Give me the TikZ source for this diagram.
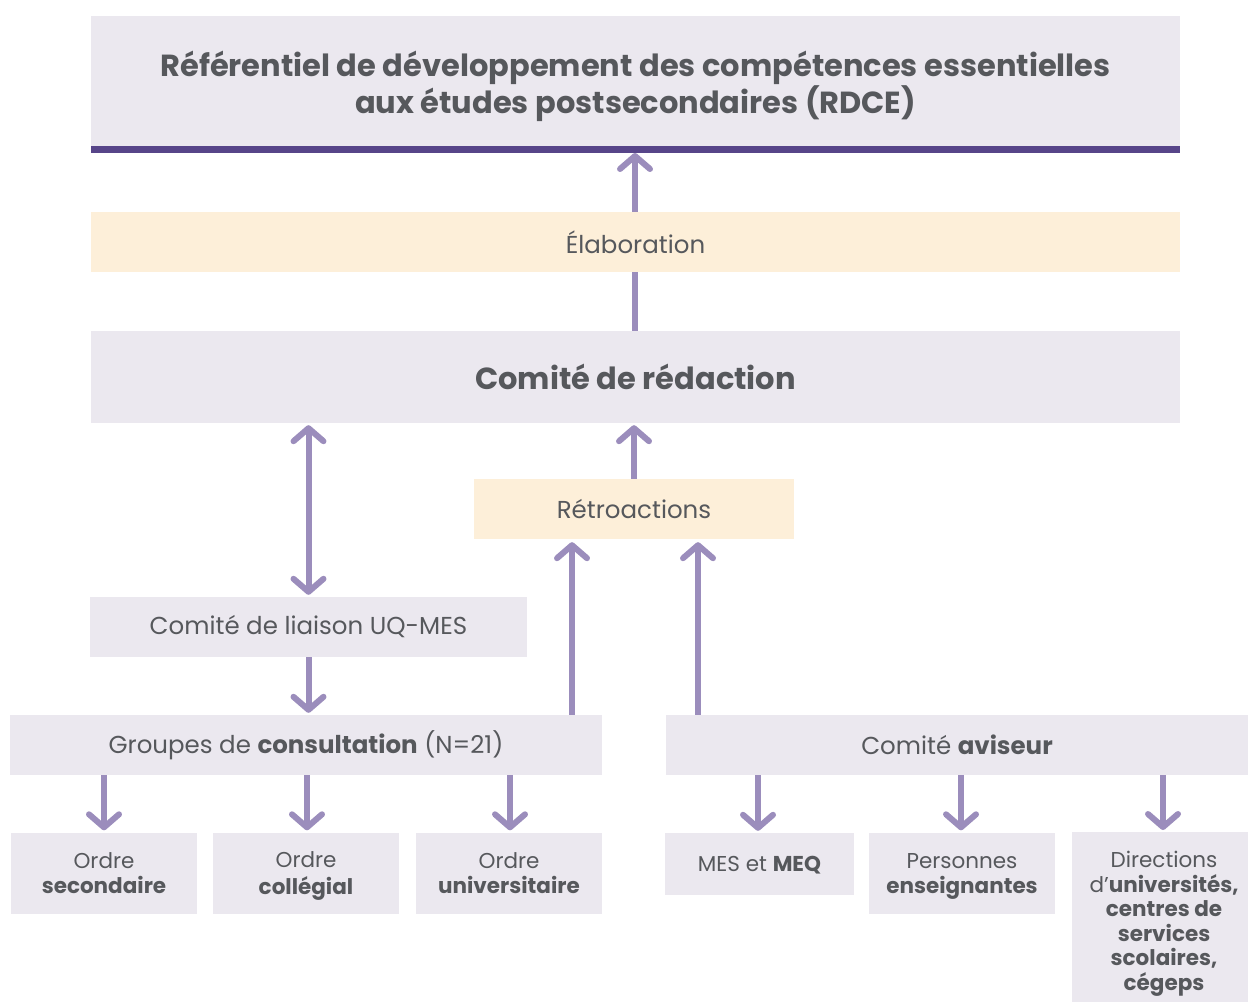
\documentclass[tikz,border=0pt]{standalone}
\usepackage{fontspec}
\setmainfont{Poppins}
\usetikzlibrary{arrows.meta}
\definecolor{boxgrey}{HTML}{EBE8EF}
\definecolor{peach}{HTML}{FDEFD9}
\definecolor{barpurple}{HTML}{574589}
\definecolor{arrowc}{HTML}{9B8DBC}
\definecolor{txt}{HTML}{56585C}
\tikzset{
  box/.style={fill=boxgrey, inner sep=0pt, align=center, text=txt, font=\fontsize{24.5}{29}\selectfont},
  pbox/.style={fill=peach, inner sep=0pt, align=center, text=txt, font=\fontsize{24.5}{29}\selectfont},
  small/.style={font=\fontsize{21.5}{24.5}\selectfont},
  label text/.style={text=txt, small, align=center, inner sep=0pt},
  link/.style={draw=arrowc, line width=6pt},
  arr/.style={link, -{Straight Barb[length=13pt,width=30pt,round]}},
  darr/.style={link, {Straight Barb[length=13pt,width=30pt,round]}-{Straight Barb[length=13pt,width=30pt,round]}},
}
\begin{document}
\begin{tikzpicture}[x=1pt,y=-1pt]
\useasboundingbox (0,0) rectangle (1248,1002);
\fill[white] (0,0) rectangle (1248,1002);

% title block with underline bar
\node[box, minimum width=1089pt, minimum height=132pt] (title) at (635.5,82) {};
\node[text=txt, align=center, font=\fontsize{30.5}{37}\selectfont\bfseries] (titletext) at (635.5,86)
  {Référentiel de développement des compétences essentielles\\aux études postsecondaires (RDCE)};
\fill[barpurple] (91,146) rectangle (1180,153);
\coordinate (bar) at (635,153);

\node[pbox, minimum width=1089pt, minimum height=60pt] (elab) at (635.5,242) {Élaboration};
\node[box, minimum width=1089pt, minimum height=92pt, font=\fontsize{30.5}{35}\selectfont\bfseries] (redac) at (635.5,377) {Comité de rédaction};
\node[pbox, minimum width=320pt, minimum height=60pt] (retro) at (634,509) {Rétroactions};
\node[box, minimum width=437pt, minimum height=60pt] (liaison) at (308.5,627) {Comité de liaison UQ-MES};
\node[box, minimum width=592pt, minimum height=60pt] (groupes) at (306,745) {Groupes de \textbf{consultation} (N=21)};
\node[box, minimum width=582pt, minimum height=60pt] (aviseur) at (957,745) {Comité \textbf{aviseur}};

% bottom row: boxes
\node[box, minimum width=186pt, minimum height=81pt] (sec) at (104,873) {};
\node[box, minimum width=186pt, minimum height=81pt] (col) at (306,873) {};
\node[box, minimum width=186pt, minimum height=81pt] (univ) at (509,873) {};
\node[box, minimum width=189pt, minimum height=62pt] (mes) at (759.5,864) {};
\node[box, minimum width=186pt, minimum height=81pt] (pers) at (962,873) {};
\node[box, minimum width=176pt, minimum height=170pt, anchor=north] (dir) at (1160,832) {};

% bottom row: texts
\node[label text] (sec-t) at ([yshift=-3pt]sec.center) {\strut Ordre\\\strut\textbf{secondaire}};
\node[label text] (col-t) at ([yshift=-3pt]col.center) {\strut Ordre\\\strut\textbf{collégial}};
\node[label text] (univ-t) at ([yshift=-3pt]univ.center) {\strut Ordre\\\strut\textbf{universitaire}};
\node[label text] (mes-t) at ([yshift=-3pt]mes.center) {\strut MES et \textbf{MEQ}};
\node[label text] (pers-t) at ([yshift=-3pt]pers.center) {\strut Personnes\\\strut\textbf{enseignantes}};
\node[label text, anchor=north] (dir-t) at (1164,851) {Directions\\d’\textbf{universités,}\\\textbf{centres de}\\\textbf{services}\\\textbf{scolaires,}\\\textbf{cégeps}};

% connectors
\draw[arr] (elab.north -| bar) -- (bar);
\draw[link] (elab.south -| bar) -- (redac.north -| bar);
\draw[arr] (retro.north) -- ([yshift=-2pt]redac.south -| retro.north);
\draw[darr] ([yshift=-2pt]redac.south -| liaison.north) -- ([yshift=2pt]liaison.north);
\draw[arr] (liaison.south) -- ([yshift=2pt]groupes.north -| liaison.south);
\draw[arr] (groupes.north -| 572,0) -- ([yshift=-3pt]retro.south -| 572,0);
\draw[arr] (aviseur.north -| 698,0) -- ([yshift=-3pt]retro.south -| 698,0);

\foreach \n/\xx in {sec/104, col/307, univ/510} {
  \draw[arr] (groupes.south -| \xx,0) -- ([yshift=2pt]\n.north -| \xx,0);
}
\foreach \n/\xx in {mes/758, pers/961, dir/1163} {
  \draw[arr] (aviseur.south -| \xx,0) -- ([yshift=2pt]\n.north -| \xx,0);
}
\end{tikzpicture}
\end{document}
